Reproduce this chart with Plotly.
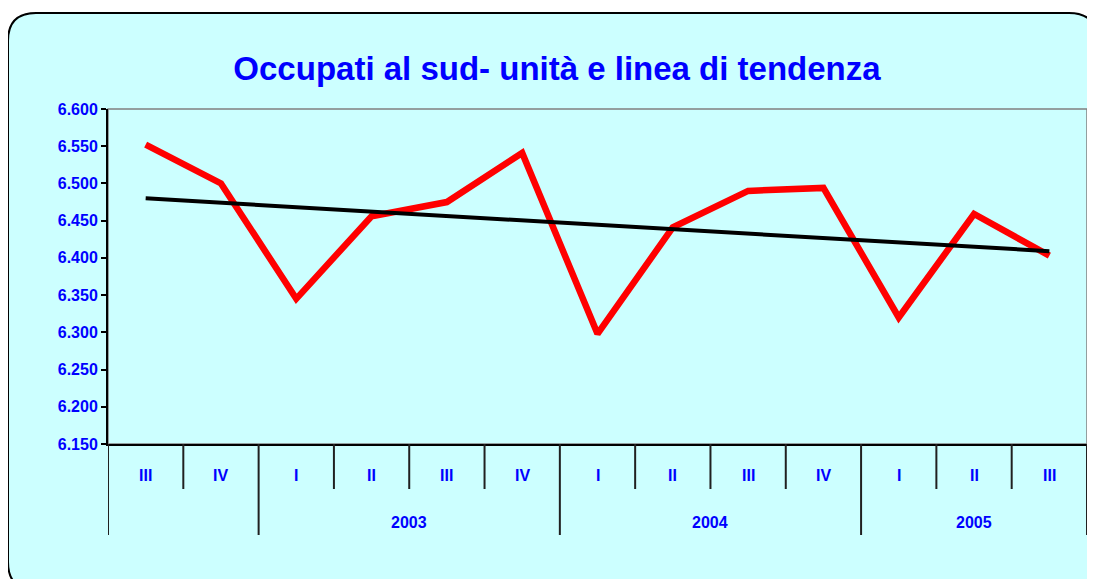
import plotly.graph_objects as go

# quarterly data (thousands of employed, south of Italy)
quarters = ["III", "IV", "I", "II", "III", "IV", "I", "II", "III", "IV", "I", "II", "III"]
years = ["", "", "2003", "2003", "2003", "2003", "2004", "2004", "2004", "2004", "2005", "2005", "2005"]
occupati = [6552, 6500, 6345, 6456, 6475, 6541, 6298, 6441, 6490, 6494, 6320, 6459, 6403]
tendenza = [6480, 6474, 6468, 6462, 6457, 6451, 6445, 6439, 6433, 6427, 6421, 6415, 6409]

periods = [f"{q} {y}" if y else f"{q} 2002" for q, y in zip(quarters, years)]

BLUE = "#0000FF"
CYAN = "#CCFFFF"

# the page body has an 8px margin, so the figure starts at (8, 8) in the window;
# keep the figure inside the window so no scrollbars appear
OFF = 8
WIN_W, WIN_H = 1095, 587
FIG_W, FIG_H = WIN_W - 2 * OFF, WIN_H - 2 * OFF
# plot area in window pixels
L, R, T, B = 108, 1087, 109, 444
W, H = R - L, B - T


def px(x):
    return (x - L) / W


def py(y):
    return (B - y) / H


fig = go.Figure()
fig.add_trace(go.Scatter(x=periods, y=occupati, mode="lines",
                         line=dict(color="#FF0000", width=6.5), hoverinfo="y"))
fig.add_trace(go.Scatter(x=periods, y=tendenza, mode="lines",
                         line=dict(color="black", width=4), hoverinfo="y"))

# rounded background card
r = 28
x0, y0, x1, y1 = 8, 13, 1097, 590
path = (f"M {px(x0 + r)} {py(y0)} L {px(x1 - r)} {py(y0)} "
        f"Q {px(x1)} {py(y0)} {px(x1)} {py(y0 + r)} L {px(x1)} {py(y1 - r)} "
        f"Q {px(x1)} {py(y1)} {px(x1 - r)} {py(y1)} L {px(x0 + r)} {py(y1)} "
        f"Q {px(x0)} {py(y1)} {px(x0)} {py(y1 - r)} L {px(x0)} {py(y0 + r)} "
        f"Q {px(x0)} {py(y0)} {px(x0 + r)} {py(y0)} Z")
shapes = [dict(type="path", path=path, xref="paper", yref="paper", layer="below",
               fillcolor=CYAN, line=dict(color="black", width=2))]
# gray plot-area frame
shapes.append(dict(type="rect", xref="paper", yref="paper", x0=0, x1=1, y0=0, y1=1,
                   layer="below", line=dict(color="#808080", width=1.5)))

# category ticks and year dividers
groups = {}
for i, y in enumerate(years):
    groups.setdefault(y, []).append(i)
bounds = [-0.5] + [g[-1] + 0.5 for g in groups.values()]
for i in range(len(quarters) + 1):
    b = i - 0.5
    long_ = b in bounds
    shapes.append(dict(type="line", xref="x", yref="paper", x0=b, x1=b,
                       y0=0, y1=py(535 if long_ else 489),
                       line=dict(color="#202020", width=2)))

lab_font = dict(size=16, color=BLUE, family="Arial", weight="bold")
annotations = []
for p, q in zip(periods, quarters):
    annotations.append(dict(x=p, y=py(475), xref="x", yref="paper", text=q,
                            yanchor="middle", showarrow=False, font=lab_font))
for y, idx in groups.items():
    if y:
        annotations.append(dict(x=sum(idx) / len(idx), y=py(522), xref="x", yref="paper",
                                text=y, yanchor="middle", showarrow=False, font=lab_font))

fig.update_layout(
    width=FIG_W, height=FIG_H,
    margin=dict(l=L - OFF, r=FIG_W + OFF - R, t=T - OFF, b=FIG_H + OFF - B),
    paper_bgcolor="white",
    plot_bgcolor="rgba(0,0,0,0)",
    showlegend=False,
    separators=",.",
    title=dict(text="Occupati al sud- unità e linea di tendenza",
               x=(557 - OFF) / FIG_W, xanchor="center",
               y=1 - (68 - OFF) / FIG_H, yanchor="middle",
               font=dict(size=33, color=BLUE, family="Arial", weight="bold")),
    xaxis=dict(type="category", range=[-0.5, 12.5], showticklabels=False, ticks="",
               showgrid=False, showline=True, linecolor="black", linewidth=2,
               zeroline=False),
    yaxis=dict(range=[6150, 6600], dtick=50, tickformat=",d", ticks="outside",
               ticklen=5, tickcolor="black", tickwidth=2, showgrid=False,
               showline=True, linecolor="black", linewidth=2, zeroline=False,
               tickfont=lab_font),
    shapes=shapes,
    annotations=annotations,
)

fig.write_html("out.html")
